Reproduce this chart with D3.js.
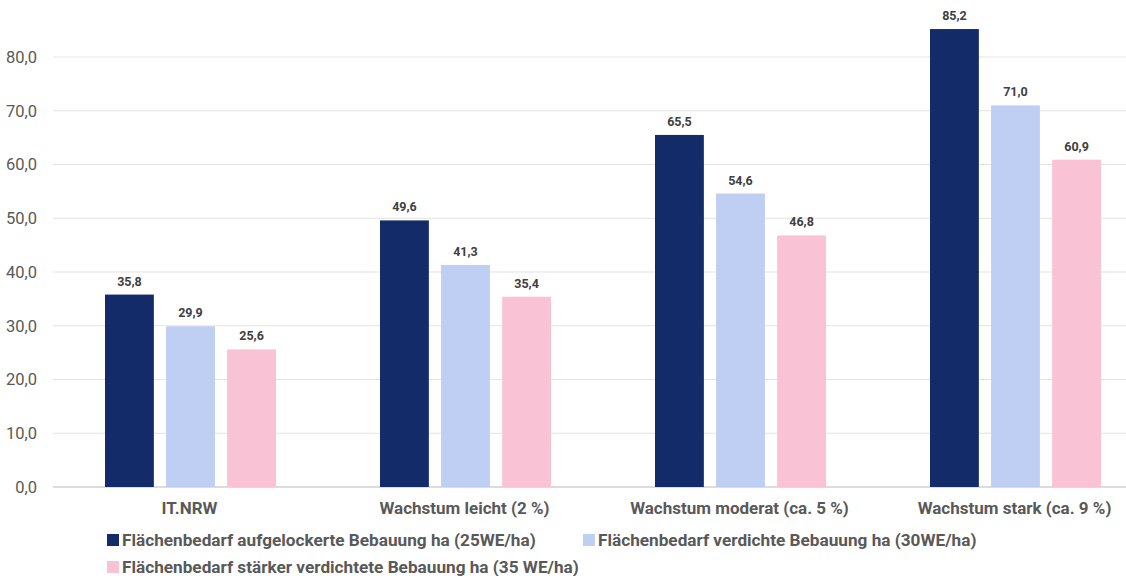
<!DOCTYPE html>
<html>
<head>
<meta charset="utf-8">
<script src="https://d3js.org/d3.v7.min.js"></script>
<style>
  html, body { margin: 0; padding: 0; background: #fff; }
  svg { display: block; font-family: Roboto, sans-serif; }
</style>
</head>
<body>
<svg id="chart" width="1126" height="576"></svg>
<script>
const categories = ['IT.NRW', 'Wachstum leicht (2 %)', 'Wachstum moderat (ca. 5 %)', 'Wachstum stark (ca. 9 %)'];
const seriesNames = [
  'Flächenbedarf aufgelockerte Bebauung ha (25WE/ha)',
  'Flächenbedarf verdichte Bebauung ha (30WE/ha)',
  'Flächenbedarf stärker verdichtete Bebauung ha (35 WE/ha)'
];
const aufgelockert = [35.8, 49.6, 65.5, 85.2];
const verdichtet = [29.9, 41.3, 54.6, 71.0];
const staerker = [25.6, 35.4, 46.8, 60.9];
const yTicks = [0, 10, 20, 30, 40, 50, 60, 70, 80];
const colors = ['#132b68', '#bfcef3', '#fac3d5'];

const series = [aufgelockert, verdichtet, staerker];
const svg = d3.select('#chart');
const fmt = v => d3.format('.1f')(v).replace('.', ',');

const y = d3.scaleLinear().domain([0, 80]).range([487, 57]);
const x0 = d3.scaleBand().domain(categories).range([53, 1153]);
const x1 = d3.scaleBand().domain(d3.range(3)).range([52, 223]).paddingInner(0.2);

// gridlines + y labels
const grid = svg.append('g');
grid.selectAll('line')
  .data(yTicks)
  .join('line')
  .attr('x1', 53).attr('x2', 1126)
  .attr('y1', d => y(d)).attr('y2', d => y(d))
  .attr('stroke', d => d === 0 ? '#d0d0d0' : '#e3e3e3')
  .attr('stroke-width', d => d === 0 ? 1.5 : 1);
grid.selectAll('text')
  .data(yTicks)
  .join('text')
  .attr('x', 37)
  .attr('y', d => y(d))
  .attr('dy', '0.35em')
  .attr('text-anchor', 'end')
  .attr('fill', '#595959')
  .attr('font-size', 16.5)
  .text(fmt);

// bars
const groups = svg.append('g').selectAll('g')
  .data(categories)
  .join('g')
  .attr('transform', d => `translate(${x0(d)},0)`);

groups.selectAll('rect')
  .data((d, i) => series.map((s, k) => ({k, v: s[i]})))
  .join('rect')
  .attr('x', d => x1(d.k))
  .attr('width', x1.bandwidth())
  .attr('y', d => y(d.v))
  .attr('height', d => y(0) - y(d.v))
  .attr('fill', d => colors[d.k]);

groups.selectAll('text.val')
  .data((d, i) => series.map((s, k) => ({k, v: s[i]})))
  .join('text')
  .attr('class', 'val')
  .attr('x', d => x1(d.k) + x1.bandwidth() / 2)
  .attr('y', d => y(d.v) - 9)
  .attr('text-anchor', 'middle')
  .attr('font-size', 12.5)
  .attr('font-weight', 'bold')
  .attr('fill', '#404040')
  .text(d => fmt(d.v));

// category labels
svg.append('g').selectAll('text')
  .data(categories)
  .join('text')
  .attr('x', d => x0(d) + x0.bandwidth() / 2 - 1)
  .attr('y', 514)
  .attr('text-anchor', 'middle')
  .attr('font-size', 17)
  .attr('font-weight', 'bold')
  .attr('fill', '#595959')
  .text(d => d);

// legend
const legendPos = [[107, 540], [583, 540], [107, 567]];
const legend = svg.append('g').selectAll('g')
  .data(seriesNames)
  .join('g')
  .attr('transform', (d, i) => `translate(${legendPos[i][0]},${legendPos[i][1]})`);
legend.append('rect')
  .attr('x', 0).attr('y', -6)
  .attr('width', 12).attr('height', 12)
  .attr('fill', (d, i) => colors[i]);
legend.append('text')
  .attr('x', 15)
  .attr('dy', '0.35em')
  .attr('font-size', 17.2)
  .attr('font-weight', 'bold')
  .attr('fill', '#595959')
  .text(d => d);
</script>
</body>
</html>
